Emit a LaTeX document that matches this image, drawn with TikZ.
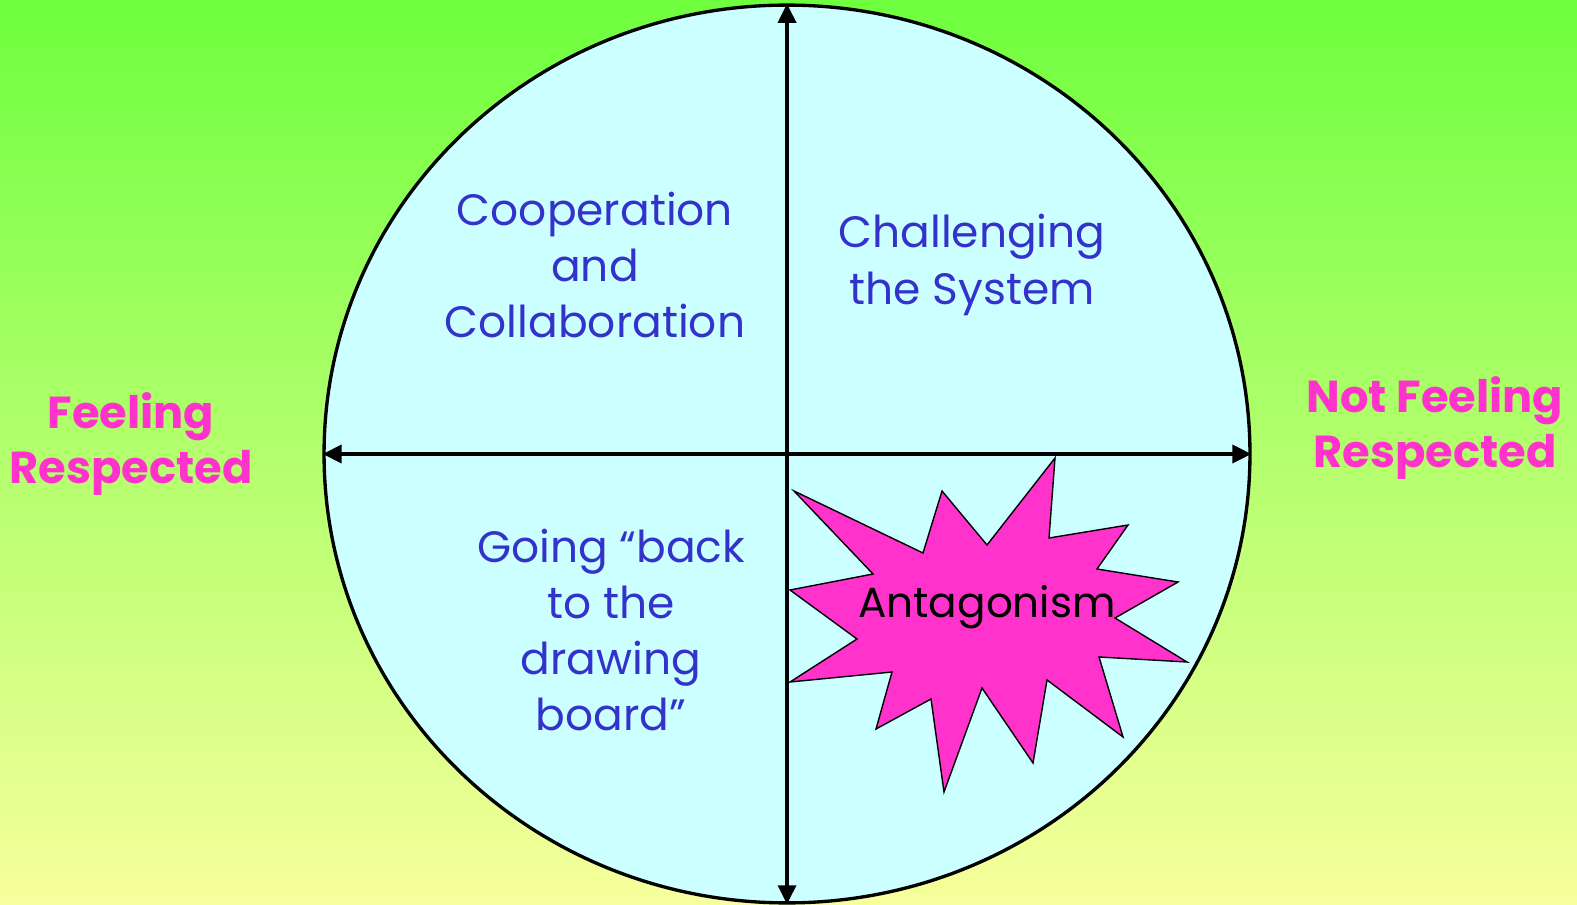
\documentclass[tikz,border=0pt]{standalone}
\usepackage{fontspec}
\setmainfont{Poppins}
\usetikzlibrary{shapes.geometric,arrows.meta}
\definecolor{bgtop}{HTML}{6EFF3E}
\definecolor{bgmid}{HTML}{D2F972}
\definecolor{bgbot}{HTML}{F7FF9C}
\definecolor{disc}{HTML}{CCFFFF}
\definecolor{quadblue}{HTML}{3333CC}
\definecolor{pinktxt}{HTML}{FF33CC}
\definecolor{burst}{HTML}{FF33CC}
\tikzset{
  quadtext/.style={text=quadblue, align=center, font=\fontsize{25}{32}\selectfont},
  sidetext/.style={text=pinktxt, align=center, font=\fontsize{25.5}{31}\selectfont\bfseries},
  axis/.style={line width=2.6pt, {Triangle[length=11pt,width=10pt]}-{Triangle[length=11pt,width=10pt]}},
}
\begin{document}
\begin{tikzpicture}[x=0.02cm,y=-0.02cm]
\useasboundingbox (0,0) rectangle (1577,905);
\shade[top color=bgtop, middle color=bgmid, bottom color=bgbot] (0,0) rectangle (1577,905);
\node[ellipse, draw, line width=1.9pt, fill=disc, minimum width=527pt, minimum height=511pt, inner sep=0pt] (c) at (787,454) {};
\draw[axis] (c.north) -- (c.south);
\draw[axis] (c.west) -- (c.east);
\draw[fill=burst, line width=0.8pt, line join=miter]
 (1055,458) -- (1049,538) -- (1128,525) -- (1097,569) -- (1178,582) -- (1115,618)
 -- (1187,662) -- (1099,657) -- (1123,737) -- (1047,680) -- (1033,763) -- (982,688)
 -- (944,792) -- (931,699) -- (876,729) -- (892,672) -- (790,682) -- (857,639)
 -- (790,590) -- (873,574) -- (794,491) -- (923,553) -- (942,491) -- (987,545) -- cycle;
\node[quadtext] (coop) at (595,265) {Cooperation\\and\\Collaboration};
\node[quadtext] (chal) at (972,265) {Challenging\\the System};
\node[quadtext] (going) at (611,630) {Going “back\\to the\\drawing\\board”};
\node[font=\fontsize{24}{32}\selectfont] (ant) at (987,607) {Antagonism};
\node[sidetext] (feel) at (131,444) {Feeling\\Respected};
\node[sidetext] (notfeel) at (1435,428) {Not Feeling\\Respected};
\end{tikzpicture}
\end{document}
